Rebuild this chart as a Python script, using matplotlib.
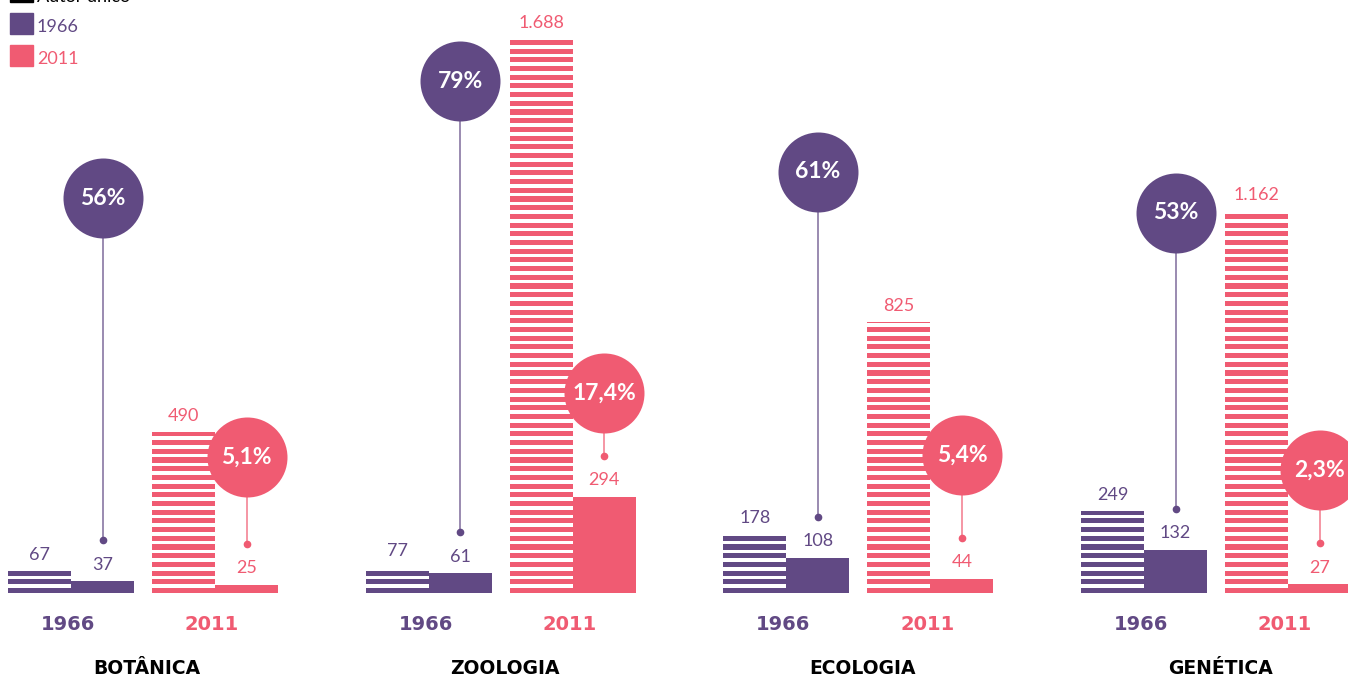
import numpy as np
import matplotlib.pyplot as plt
from matplotlib.patches import Rectangle

plt.rcParams['font.family'] = ['Lato', 'DejaVu Sans']

areas = ['BOTÂNICA', 'ZOOLOGIA', 'ECOLOGIA', 'GENÉTICA']
years = ['1966', '2011']
total_1966 = [67, 77, 178, 249]
solo_1966 = [37, 61, 108, 132]
total_2011 = [490, 1688, 825, 1162]
solo_2011 = [25, 294, 44, 27]
pct_1966 = ['56%', '79%', '61%', '53%']
pct_2011 = ['5,1%', '17,4%', '5,4%', '2,3%']
legend_labels = ['Autor único', '1966', '2011']

# bubble heights (layout only, in data units)
bubble_y_1966 = [1203, 1560, 1283, 1158]
bubble_y_2011 = [414, 609, 420, 375]

PURPLE = '#614984'
PINK = '#f05b72'
W = 63          # bar width (x units = pixels)
GROUP = 357.7   # distance between groups
PX = 0.3282     # pixels per data unit
STRIPE_P = 8.7 / PX
STRIPE_GAP = 3.6 / PX
STRIPE_ON = STRIPE_P - STRIPE_GAP
WIDE_BOLD = ['DejaVu Sans']

fig = plt.figure(figsize=(13.48, 6.79), dpi=100)
ax = fig.add_axes([0, 0, 1, 1])
ax.set_xlim(0, 1348)
ax.set_ylim((593 - 679) / PX, 593 / PX)
ax.axis('off')


def fmt(v):
    return f'{v:,}'.replace(',', '.')


def striped_bar(x, h, color):
    ax.bar(x, h, width=W, color=color, align='edge', linewidth=0, zorder=2)
    for y0 in np.arange(STRIPE_ON, h, STRIPE_P):
        ax.bar(x, min(STRIPE_GAP, h - y0), bottom=y0, width=W, color='white',
               align='edge', linewidth=0, zorder=3)


def value_label(x, h, color):
    ax.annotate(fmt(h), (x + W / 2, h), xytext=(0, 6), textcoords='offset points',
                ha='center', va='bottom', fontsize=13, color=color, zorder=5)


def bubble(x, h, by, text, color):
    dot = h + 41 / PX
    ax.plot([x, x], [by, dot], color=color, lw=1.2, alpha=0.75, zorder=4)
    ax.plot(x, dot, 'o', color=color, ms=4.5, zorder=4)
    ax.scatter([x], [by], s=3318, color=color, linewidths=0, zorder=6)
    ax.text(x, by, text, ha='center', va='center', color='white',
            fontsize=16.5, fontweight='bold', zorder=7)


for i, area in enumerate(areas):
    x0 = 8 + i * GROUP
    xs = [x0, x0 + W, x0 + 2 * W + 18, x0 + 3 * W + 18]

    striped_bar(xs[0], total_1966[i], PURPLE)
    ax.bar(xs[1], solo_1966[i], width=W, color=PURPLE, align='edge', linewidth=0, zorder=2)
    striped_bar(xs[2], total_2011[i], PINK)
    ax.bar(xs[3], solo_2011[i], width=W, color=PINK, align='edge', linewidth=0, zorder=2)

    value_label(xs[0], total_1966[i], PURPLE)
    value_label(xs[1], solo_1966[i], PURPLE)
    value_label(xs[2], total_2011[i], PINK)
    value_label(xs[3], solo_2011[i], PINK)

    bubble(xs[1] + W / 2, solo_1966[i], bubble_y_1966[i], pct_1966[i], PURPLE)
    bubble(xs[3] + W / 2, solo_2011[i], bubble_y_2011[i], pct_2011[i], PINK)

    ax.text(xs[1] - 3, -32 / PX, years[0], ha='center', va='center', fontsize=14,
            fontweight='bold', color=PURPLE, family=WIDE_BOLD)
    ax.text(xs[3] - 3, -32 / PX, years[1], ha='center', va='center', fontsize=14,
            fontweight='bold', color=PINK, family=WIDE_BOLD)
    ax.text(xs[2] - 5, -75 / PX, area, ha='center', va='center', fontsize=13.5,
            fontweight='bold', color='black', family=WIDE_BOLD)

# legend, top-left (first entry is cut by the top edge)
H = 679.0
for k, (lab, col) in enumerate(zip(legend_labels, ['black', PURPLE, PINK])):
    top = -19 + 32 * k
    fig.patches.append(Rectangle((10 / 1348, (H - top - 21) / H), 23 / 1348, 21 / H,
                                 transform=fig.transFigure, color=col, figure=fig))
    ty = top + 14 if k else -3
    fig.text(37 / 1348, (H - ty) / H, lab, ha='left', va='center',
             fontsize=13, color=col)

fig.savefig('out.png', dpi=100)
